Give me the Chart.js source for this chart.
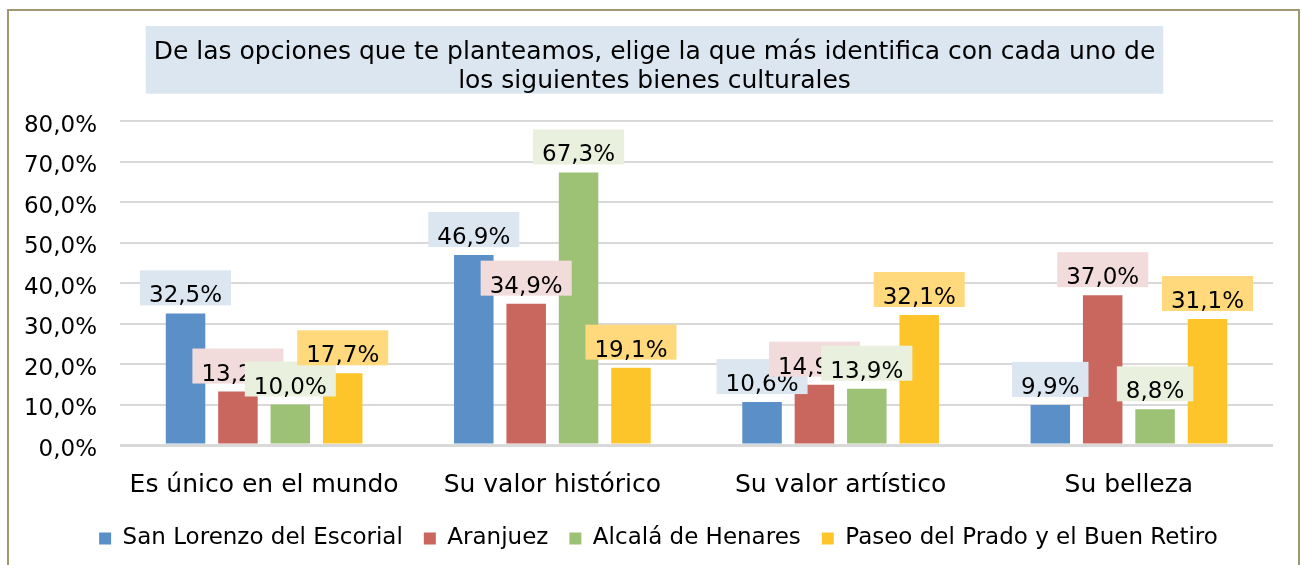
<!DOCTYPE html>
<html>
<head>
<meta charset="utf-8">
<script src="https://cdn.jsdelivr.net/npm/chart.js@4.4.1/dist/chart.umd.min.js"></script>
<style>
html,body{margin:0;padding:0;background:#fff;overflow:hidden}
#wrap{position:relative;width:1302px;height:565px}
</style>
</head>
<body>
<div id="wrap"><canvas id="c" width="1302" height="565"></canvas></div>
<script>
const titleLines = [
  'De las opciones que te planteamos, elige la que más identifica con cada uno de',
  'los siguientes bienes culturales'
];
const categories = ['Es único en el mundo', 'Su valor histórico', 'Su valor artístico', 'Su belleza'];
const seriesNames = ['San Lorenzo del Escorial', 'Aranjuez', 'Alcalá de Henares', 'Paseo del Prado y el Buen Retiro'];
const sanLorenzo = [32.5, 46.9, 10.6, 9.9];
const aranjuez   = [13.2, 34.9, 14.9, 37.0];
const alcala     = [10.0, 67.3, 13.9, 8.8];
const paseo      = [17.7, 19.1, 32.1, 31.1];
const yTicks = [0, 10, 20, 30, 40, 50, 60, 70, 80];

const FONT = '"DejaVu Sans", Verdana, sans-serif';
const barColors = ['#5b8fc7', '#c9675f', '#9dc175', '#fec52a'];
const labelBg = ['#dce6f1', '#f2dcdb', '#eaf0de', '#ffd97b'];
const fmt = v => v.toFixed(1).replace('.', ',') + '%';

const TITLE_SIZE = 25, TITLE_LH = 1.15, TITLE_PAD_TOP = 38.6, TITLE_PAD_BOTTOM = 24.9;

const frameAndTitleBg = {
  id: 'frameAndTitleBg',
  afterLayout(chart) {
    const tb = chart.titleBlock;
    if (tb) {
      const right = tb.right;
      tb.left = 36;
      tb.width = right - 36;
      tb.right = right;
    }
    const lg = chart.legend;
    if (lg) {
      const right = lg.right;
      lg.left = 44;
      lg.width = right - 44;
      lg.right = right;
    }
  },
  beforeDraw(chart) {
    const ctx = chart.ctx;
    ctx.save();
    ctx.fillStyle = '#ffffff';
    ctx.fillRect(0, 0, chart.width, chart.height);
    ctx.strokeStyle = '#a09870';
    ctx.lineWidth = 2;
    ctx.strokeRect(8, 10, 1291, 600);
    const tb = chart.titleBlock;
    if (tb) {
      ctx.font = TITLE_SIZE + 'px ' + FONT;
      const w = Math.max(...titleLines.map(t => ctx.measureText(t).width));
      const cx = (tb.left + tb.right) / 2;
      const lh = TITLE_SIZE * TITLE_LH;
      const mid1 = tb.top + TITLE_PAD_TOP + lh / 2;
      const mid2 = mid1 + lh * (titleLines.length - 1);
      ctx.fillStyle = '#dce6f0';
      const top = mid1 - 27, bottom = mid2 + 12;
      ctx.fillRect(cx - w / 2 - 8, top, w + 16, bottom - top);
    }
    ctx.restore();
  }
};

const dataLabels = {
  id: 'dataLabels',
  afterDatasetsDraw(chart) {
    const ctx = chart.ctx;
    ctx.save();
    ctx.font = '23px ' + FONT;
    ctx.textAlign = 'center';
    ctx.textBaseline = 'alphabetic';
    chart.data.datasets.forEach((ds, i) => {
      const meta = chart.getDatasetMeta(i);
      meta.data.forEach((bar, j) => {
        const txt = fmt(ds.data[j]);
        const tw = ctx.measureText(txt).width;
        const bw = tw + 18, bh = 35;
        const bottom = bar.y - 8;
        const top = bottom - bh;
        ctx.fillStyle = labelBg[i];
        ctx.fillRect(bar.x - bw / 2, top, bw, bh);
        ctx.fillStyle = '#000';
        ctx.fillText(txt, bar.x, bottom - 3);
      });
    });
    ctx.restore();
  }
};

const seriesData = [sanLorenzo, aranjuez, alcala, paseo];

new Chart(document.getElementById('c'), {
  type: 'bar',
  data: {
    labels: categories,
    datasets: seriesNames.map((n, i) => ({
      label: n,
      data: seriesData[i],
      backgroundColor: barColors[i],
      borderWidth: 0,
      categoryPercentage: 0.727,
      barPercentage: 0.754
    }))
  },
  options: {
    responsive: false,
    devicePixelRatio: 1,
    animation: false,
    layout: { padding: { left: 0, right: 29, top: 0, bottom: 5 } },
    plugins: {
      tooltip: { enabled: false },
      title: {
        display: true,
        text: titleLines,
        color: '#000',
        font: { family: FONT, size: TITLE_SIZE, weight: 'normal', lineHeight: TITLE_LH },
        padding: { top: TITLE_PAD_TOP, bottom: TITLE_PAD_BOTTOM }
      },
      legend: {
        position: 'bottom',
        labels: {
          boxWidth: 12,
          boxHeight: 12,
          padding: 21,
          color: '#000',
          font: { family: FONT, size: 23 }
        }
      }
    },
    scales: {
      x: {
        grid: { display: false, drawTicks: false },
        border: { display: false },
        afterFit: s => { s.height = 61; },
        ticks: {
          color: '#000',
          padding: 27.5,
          maxRotation: 0,
          autoSkip: false,
          font: { family: FONT, size: 25, lineHeight: 1.0 }
        }
      },
      y: {
        min: 0,
        max: 80,
        afterBuildTicks: s => { s.ticks = yTicks.map(v => ({ value: v })); },
        afterFit: s => { s.width = 120; },
        grid: {
          drawTicks: false,
          color: '#d9d9d9',
          lineWidth: c => (c.tick && c.tick.value === 0 ? 3 : 2)
        },
        border: { display: false },
        ticks: {
          color: '#000',
          padding: 23,
          labelOffset: 5,
          font: { family: FONT, size: 23 },
          callback: v => fmt(v)
        }
      }
    }
  },
  plugins: [frameAndTitleBg, dataLabels]
});
</script>
</body>
</html>
